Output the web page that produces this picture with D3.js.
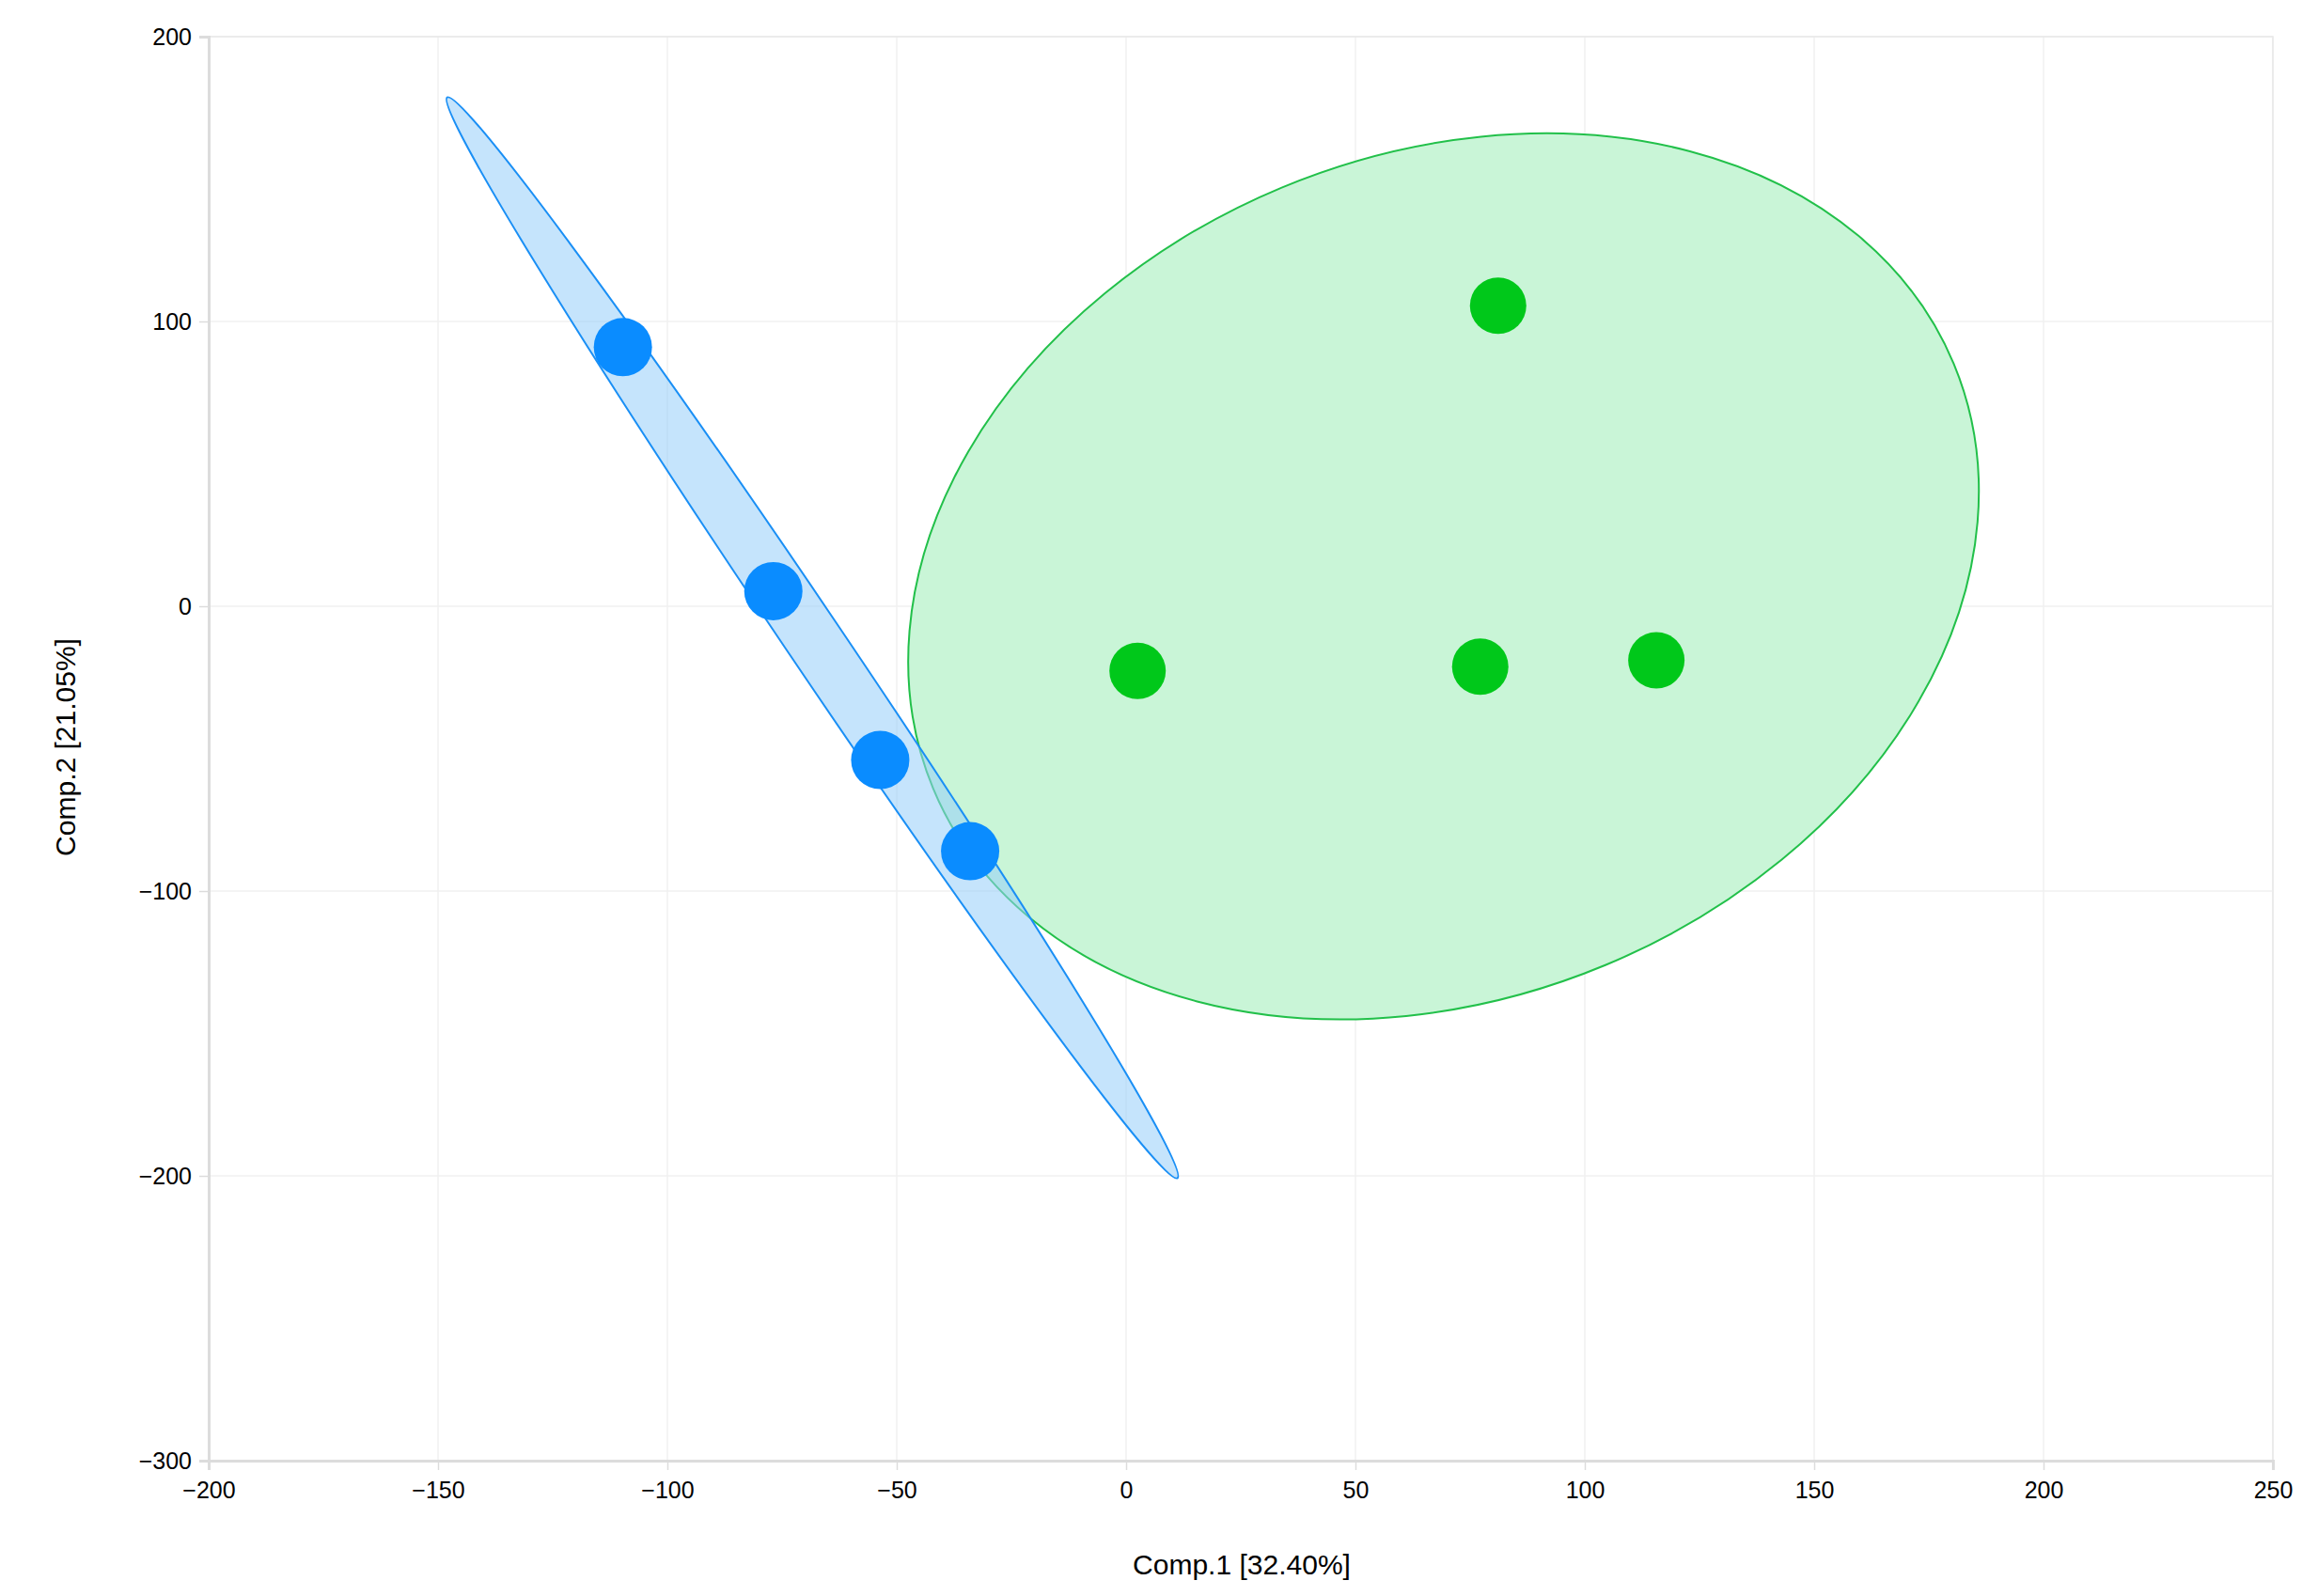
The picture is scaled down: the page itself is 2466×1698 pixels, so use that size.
<!DOCTYPE html>
<html>
<head>
<meta charset="UTF-8">
<script src="https://cdn.jsdelivr.net/npm/d3@7"></script>
<style>body{margin:0;background:#fff;} text{font-family:"Liberation Sans",Arial,sans-serif;}</style>
</head>
<body>
<script>
var width = 2466, height = 1698;
var blueX = [-109.7, -76.9, -53.6, -34];
var blueY = [91, 5.3, -54, -86];
var greenX = [81.1, 2.5, 77.2, 115.6];
var greenY = [105.5, -22.7, -21.2, -19];
var xTicks = [-200, -150, -100, -50, 0, 50, 100, 150, 200, 250];
var yTicks = [200, 100, 0, -100, -200, -300];

var svg = d3.select('body').append('svg').attr('width', width).attr('height', height);
var x = d3.scaleLinear().domain([-200, 250]).range([222, 2418]);
var y = d3.scaleLinear().domain([-300, 200]).range([1554, 39]);

// grid
svg.append('g').selectAll('line').data(xTicks).enter().append('line')
  .attr('x1', d => x(d)).attr('x2', d => x(d)).attr('y1', y(200)).attr('y2', y(-300))
  .attr('stroke', '#f0f0f0').attr('stroke-width', 1.5);
svg.append('g').selectAll('line').data(yTicks).enter().append('line')
  .attr('x1', x(-200)).attr('x2', x(250)).attr('y1', d => y(d)).attr('y2', d => y(d))
  .attr('stroke', '#f0f0f0').attr('stroke-width', 1.5);
svg.append('rect').attr('x', x(-200)).attr('y', y(200)).attr('width', x(250) - x(-200))
  .attr('height', y(-300) - y(200)).attr('fill', 'none').attr('stroke', '#e8e8e8').attr('stroke-width', 1.5);

var xAxis = svg.append('g').attr('transform', 'translate(0,' + y(-300) + ')')
  .call(d3.axisBottom(x).tickValues(xTicks).tickSize(10).tickPadding(12));
var yAxis = svg.append('g').attr('transform', 'translate(' + x(-200) + ',0)')
  .call(d3.axisLeft(y).tickValues(yTicks).tickSize(10).tickPadding(8));
[xAxis, yAxis].forEach(function(a) {
  a.select('.domain').attr('stroke', '#dcdcdc').attr('stroke-width', 3);
  a.selectAll('.tick line').attr('stroke', '#dcdcdc').attr('stroke-width', 1.5);
  a.selectAll('text').attr('font-size', 25).attr('fill', '#000').style('font-family', '"Liberation Sans",Arial,sans-serif');
});

// green ellipse
var gc = [69.2, 10.5];
svg.append('ellipse').attr('cx', 0).attr('cy', 0).attr('rx', 588).attr('ry', 448)
  .attr('transform', 'translate(' + x(gc[0]) + ',' + y(gc[1]) + ') rotate(-22.6)')
  .attr('fill', '#c9f5d7').attr('stroke', '#22c04a').attr('stroke-width', 2);

// blue ellipse from end points
var b1 = [-148, 178.7], b2 = [11.2, -200.8];
var px1 = x(b1[0]), py1 = y(b1[1]), px2 = x(b2[0]), py2 = y(b2[1]);
var len = Math.hypot(px2 - px1, py2 - py1) / 2;
var ang = Math.atan2(py2 - py1, px2 - px1) * 180 / Math.PI;
svg.append('ellipse').attr('cx', 0).attr('cy', 0).attr('rx', len).attr('ry', 30)
  .attr('transform', 'translate(' + (px1 + px2) / 2 + ',' + (py1 + py2) / 2 + ') rotate(' + ang + ')')
  .attr('fill', 'rgba(150,205,250,0.55)').attr('stroke', '#1a8ff5').attr('stroke-width', 2);

svg.append('g').selectAll('circle').data(blueX).enter().append('circle')
  .attr('cx', d => x(d)).attr('cy', (d, i) => y(blueY[i])).attr('r', 31).attr('fill', '#0a8cff');
svg.append('g').selectAll('circle').data(greenX).enter().append('circle')
  .attr('cx', d => x(d)).attr('cy', (d, i) => y(greenY[i])).attr('r', 30).attr('fill', '#00c81a');

svg.append('text').attr('x', 1321).attr('y', 1675).attr('text-anchor', 'middle')
  .attr('font-size', 30).text('Comp.1 [32.40%]');
svg.append('text').attr('transform', 'translate(80,795) rotate(-90)').attr('text-anchor', 'middle')
  .attr('font-size', 30).text('Comp.2 [21.05%]');
</script>
</body>
</html>
